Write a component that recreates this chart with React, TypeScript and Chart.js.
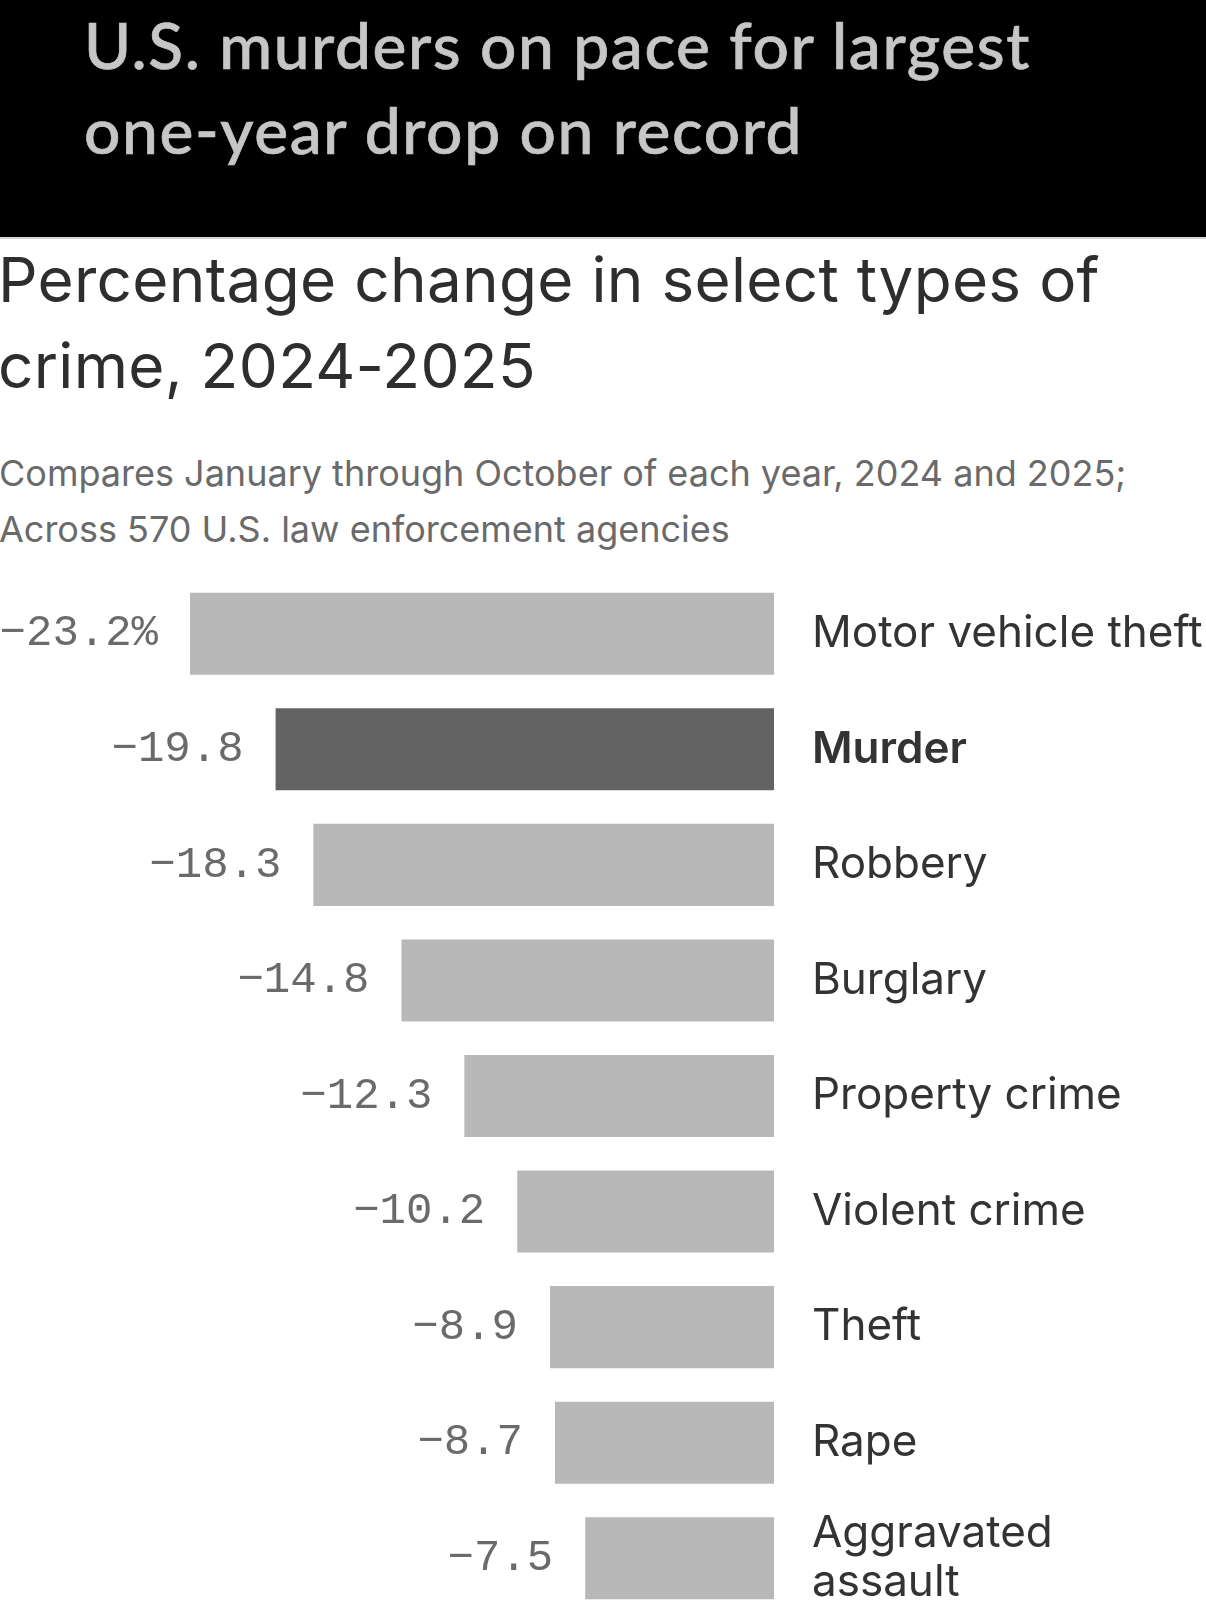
import React, { useEffect, useRef } from "react";
import { Chart, registerables } from "chart.js";

Chart.register(...registerables);

// ---- Data ----
const categories: string[] = [
  "Motor vehicle theft",
  "Murder",
  "Robbery",
  "Burglary",
  "Property crime",
  "Violent crime",
  "Theft",
  "Rape",
  "Aggravated assault",
];
const changes: number[] = [-23.2, -19.8, -18.3, -14.8, -12.3, -10.2, -8.9, -8.7, -7.5];
const highlighted = "Murder";

const titleLines = ["U.S. murders on pace for largest", "one-year drop on record"];
const subtitleLines = ["Percentage change in select types of", "crime, 2024-2025"];
const noteLines = [
  "Compares January through October of each year, 2024 and 2025;",
  "Across 570 U.S. law enforcement agencies",
];

// ---- Styles ----
const LIGHT_BAR = "#b8b8b8";
const DARK_BAR = "#626262";
const LABEL_FONT = "Inter, 'Noto Sans', sans-serif";
const VALUE_FONT = "'Liberation Mono', 'DejaVu Sans Mono', monospace";
const LABEL_SIZE = 44;

function formatValue(v: number, i: number): string {
  const s = (v < 0 ? "\u2212" : "") + Math.abs(v).toFixed(1);
  return i === 0 ? s + "%" : s;
}

function wrapLabel(text: string, maxWidth: number, font: string): string | string[] {
  const c = document.createElement("canvas").getContext("2d");
  if (!c) return text;
  c.font = font;
  if (c.measureText(text).width <= maxWidth) return text;
  const words = text.split(" ");
  const lines: string[] = [];
  let cur = "";
  for (const w of words) {
    const t = cur ? cur + " " + w : w;
    if (c.measureText(t).width > maxWidth && cur) {
      lines.push(cur);
      cur = w;
    } else cur = t;
  }
  if (cur) lines.push(cur);
  return lines;
}

const valueLabelPlugin = {
  id: "valueLabels",
  afterDatasetsDraw(chart: any) {
    const { ctx } = chart;
    const meta = chart.getDatasetMeta(0);
    ctx.save();
    ctx.font = `44px ${VALUE_FONT}`;
    ctx.fillStyle = "#6a6a6a";
    ctx.textAlign = "right";
    ctx.textBaseline = "middle";
    meta.data.forEach((bar: any, i: number) => {
      const p = bar.getProps(["x", "y", "base"], true);
      const left = Math.min(p.x, p.base);
      ctx.fillText(formatValue(changes[i], i), left - 32, p.y);
    });
    ctx.restore();
  },
};

function BarChart() {
  const ref = useRef<HTMLCanvasElement | null>(null);
  useEffect(() => {
    if (!ref.current) return;
    const labelFont = `${LABEL_SIZE}px ${LABEL_FONT}`;
    const labels = categories.map((c) => wrapLabel(c, 397, labelFont));
    const chart = new Chart(ref.current, {
      type: "bar",
      data: {
        labels,
        datasets: [
          {
            data: changes,
            backgroundColor: categories.map((c) => (c === highlighted ? DARK_BAR : LIGHT_BAR)),
            borderWidth: 0,
            categoryPercentage: 1,
            barPercentage: 0.71,
          },
        ],
      },
      options: {
        indexAxis: "y",
        animation: false,
        responsive: true,
        maintainAspectRatio: false,
        layout: { padding: { left: 190, right: 0, top: 0, bottom: 0 } },
        plugins: { legend: { display: false }, tooltip: { enabled: false } },
        scales: {
          x: { display: false, min: Math.min(...changes), max: 0 },
          y: {
            position: "right",
            grid: { display: false, drawTicks: false },
            border: { display: false },
            ticks: {
              autoSkip: false,
              padding: 38,
              color: "#333333",
              font: (c: any) => ({
                family: LABEL_FONT,
                size: LABEL_SIZE,
                weight: categories[c.index] === highlighted ? "600" : "normal",
                lineHeight: 1.13,
              }),
            },
            afterFit: (s: any) => {
              s.width = 432;
              s.paddingTop = 0;
              s.paddingBottom = 0;
            },
          },
        },
      } as any,
      plugins: [valueLabelPlugin],
    });
    return () => chart.destroy();
  }, []);
  return <canvas ref={ref} />;
}

export default function App() {
  useEffect(() => {
    document.body.style.margin = "0";
  }, []);
  return (
    <div
      style={{
        position: "relative",
        width: 1206,
        height: 1616,
        overflow: "hidden",
        background: "#ffffff",
      }}
    >
      <div
        style={{
          position: "absolute",
          left: 0,
          top: 0,
          width: 1206,
          height: 237,
          background: "#000000",
          borderBottom: "2px solid #d6d6d6",
        }}
      >
        <div
          style={{
            position: "absolute",
            left: 84,
            top: 2,
            fontFamily: "Lato, 'Open Sans', sans-serif",
            fontSize: 64,
            lineHeight: "85px",
            letterSpacing: "1.6px",
            color: "#c6c6c6",
            fontWeight: 500,
            WebkitTextStroke: "0.7px #c6c6c6",
            whiteSpace: "nowrap",
          }}
        >
          {titleLines.map((t) => (
            <div key={t}>{t}</div>
          ))}
        </div>
      </div>
      <div
        style={{
          position: "absolute",
          left: -2,
          top: 237,
          fontFamily: LABEL_FONT,
          fontSize: 62,
          lineHeight: "86px",
          letterSpacing: "0.3px",
          color: "#2e2e2e",
          whiteSpace: "nowrap",
        }}
      >
        {subtitleLines.map((t) => (
          <div key={t}>{t}</div>
        ))}
      </div>
      <div
        style={{
          position: "absolute",
          left: -1,
          top: 445,
          fontFamily: LABEL_FONT,
          fontSize: 36,
          lineHeight: "56px",
          color: "#6a6a6a",
          whiteSpace: "nowrap",
        }}
      >
        {noteLines.map((t) => (
          <div key={t}>{t}</div>
        ))}
      </div>
      <div style={{ position: "absolute", left: 0, top: 576, width: 1206, height: 1040 }}>
        <BarChart />
      </div>
    </div>
  );
}
